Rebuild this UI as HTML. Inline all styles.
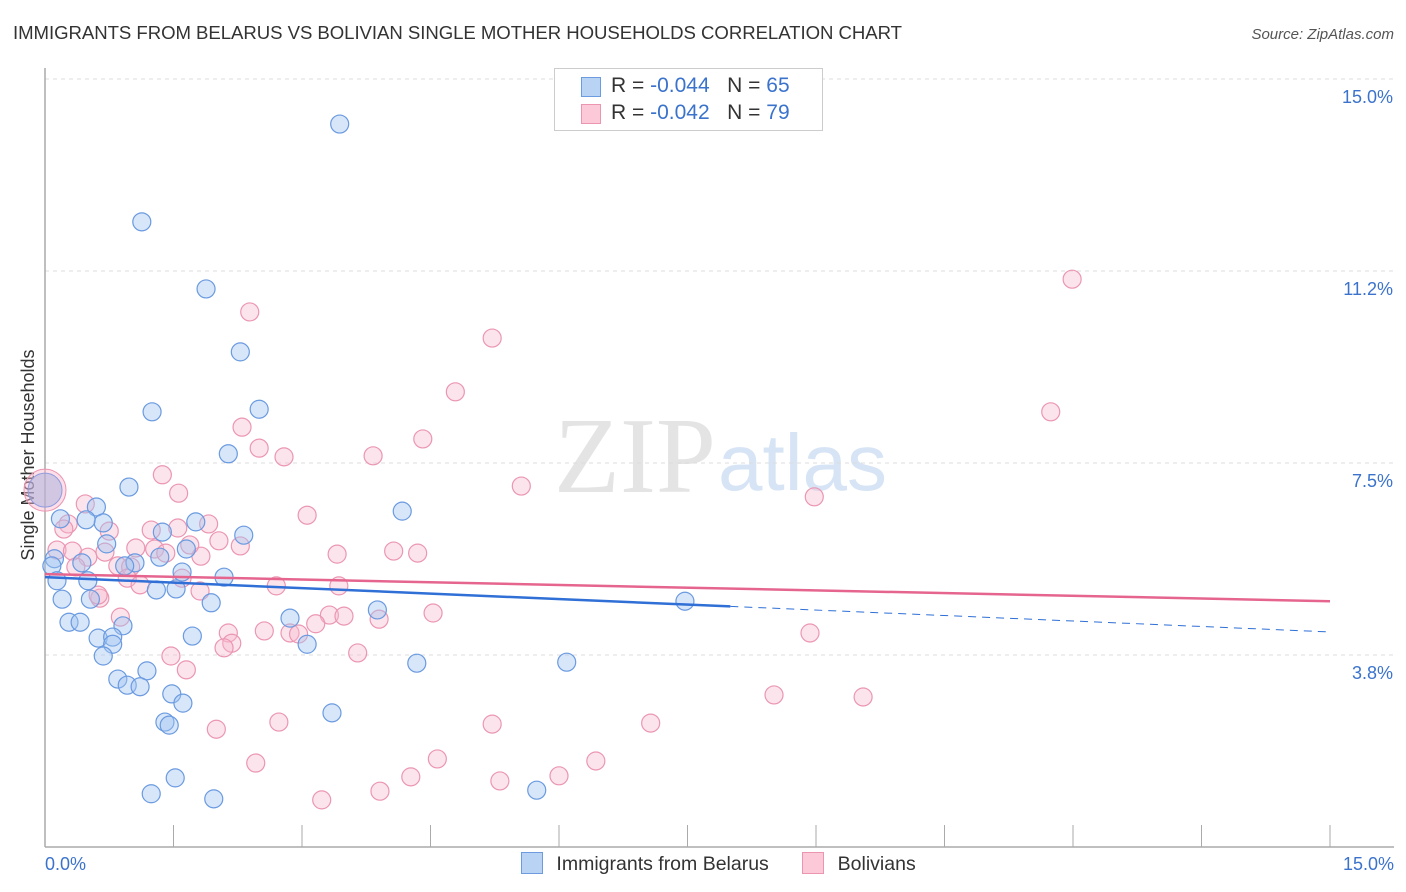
<!DOCTYPE html>
<html><head><meta charset="utf-8"><style>
body{margin:0;background:#fff;font-family:"Liberation Sans",sans-serif;}
#wrap{position:relative;width:1406px;height:892px;overflow:hidden;}
</style></head><body>
<div id="wrap">
<svg id="svg" width="1406" height="892">
<text x="13" y="39" font-size="18.6" fill="#333" textLength="889">IMMIGRANTS FROM BELARUS VS BOLIVIAN SINGLE MOTHER HOUSEHOLDS CORRELATION CHART</text>
<text x="1394" y="39" font-size="15" fill="#555" font-style="italic" text-anchor="end">Source: ZipAtlas.com</text>
<text x="716" y="492" font-size="108" fill="#e4e4e4" text-anchor="end" font-family="Liberation Serif">ZIP</text>
<text x="718" y="490" font-size="80" fill="#d6e4f5">atlas</text>
<text transform="translate(34,455) rotate(-90)" font-size="18" fill="#333" text-anchor="middle">Single Mother Households</text>
<g id="grid"></g><g id="pts"></g><g id="trend"></g>
</svg>
<div style="position:absolute;left:554px;top:68px;width:267px;height:61px;border:1px solid #ccc;background:#fff;font-size:21px;color:#333">
<div style="position:absolute;left:26px;top:8px;width:18px;height:18px;background:#b9d3f5;border:1px solid #6d9be0"></div>
<div style="position:absolute;left:56px;top:5px">R = <span style="color:#3b73cc">-0.044</span>&nbsp;&nbsp;&nbsp;N = <span style="color:#3b73cc">65</span></div>
<div style="position:absolute;left:26px;top:35px;width:18px;height:18px;background:#fbc9d8;border:1px solid #ec95b1"></div>
<div style="position:absolute;left:56px;top:32px">R = <span style="color:#3b73cc">-0.042</span>&nbsp;&nbsp;&nbsp;N = <span style="color:#3b73cc">79</span></div>
</div>
<div style="position:absolute;left:521px;top:852px;font-size:19.5px;color:#333;white-space:nowrap">
<span style="display:inline-block;width:20px;height:20px;background:#b9d3f5;border:1px solid #6d9be0;vertical-align:-4px"></span>
<span style="margin-left:8px">Immigrants from Belarus</span>
<span style="display:inline-block;width:20px;height:20px;background:#fbc9d8;border:1px solid #ec95b1;vertical-align:-4px;margin-left:28px"></span>
<span style="margin-left:8px">Bolivians</span>
</div>
</div>
<script>
const yTicks=[3.75,7.5,11.25,15];
const yTickLabels=["3.8%","7.5%","11.2%","15.0%"];
const xTickLabels=["0.0%","15.0%"];
const blueX=[3.44,1.13,1.88,2.28,1.25,2.50,2.14,0.98,4.17,0.60,0.18,0.68,1.76,2.32,1.37,0.72,1.65,0.11,1.34,0.43,1.05,0.08,0.93,1.60,2.09,0.14,0.50,1.30,1.53,0.20,0.53,1.94,2.86,3.88,7.47,0.28,0.41,0.91,1.72,0.62,0.79,0.79,3.06,0.68,4.34,6.09,1.19,0.85,0.96,1.11,1.48,1.61,1.40,1.45,3.35,1.52,1.24,1.97,5.74,0.48];
const blueY=[14.12,12.21,10.90,9.67,8.50,8.55,7.68,7.03,6.56,6.64,6.41,6.33,6.35,6.09,6.15,5.92,5.82,5.63,5.66,5.55,5.55,5.49,5.49,5.37,5.27,5.20,5.20,5.02,5.04,4.84,4.84,4.77,4.47,4.63,4.80,4.39,4.39,4.32,4.12,4.08,4.10,3.96,3.96,3.73,3.59,3.61,3.44,3.28,3.16,3.13,2.99,2.81,2.44,2.38,2.62,1.35,1.04,0.94,1.11,6.39];
const pinkX=[11.99,2.39,5.22,4.79,11.74,2.30,4.41,2.50,2.79,3.83,1.37,5.56,1.56,8.98,0.47,0.27,3.06,1.91,0.22,0.75,1.24,1.55,0.14,0.32,0.70,1.06,1.28,1.41,1.82,2.28,3.41,4.07,4.35,0.50,0.85,1.00,1.69,2.03,1.60,0.96,1.11,0.64,1.81,2.70,3.43,0.88,3.32,3.49,3.90,3.16,4.53,2.56,2.86,2.14,2.18,2.09,2.96,8.93,1.47,3.65,1.65,8.51,9.55,2.00,2.73,5.22,7.07,2.46,4.58,6.43,4.27,5.31,6.00,3.91,3.23,0.62,0.36];
const pinkY=[11.09,10.45,9.94,8.89,8.50,8.20,7.97,7.79,7.62,7.64,7.27,7.05,6.91,6.84,6.70,6.31,6.48,6.31,6.21,6.17,6.19,6.23,5.80,5.78,5.76,5.84,5.82,5.74,5.68,5.88,5.72,5.78,5.74,5.66,5.49,5.47,5.90,5.98,5.25,5.25,5.12,4.86,5.00,5.10,5.10,4.49,4.53,4.51,4.45,4.36,4.57,4.22,4.18,4.18,3.98,3.89,4.16,4.18,3.73,3.79,3.46,2.97,2.93,2.30,2.44,2.40,2.42,1.64,1.72,1.68,1.37,1.29,1.39,1.09,0.92,4.92,5.47];
const bigX=[0]; const bigY=[6.97];
const blueTrend=[5.27,4.20]; const blueSolidEnd=[8.0];
const pinkTrend=[5.33,4.80];
const X0=45,X1=1330,Y0=847,Y1=79;
const xs=v=>X0+v/15*(X1-X0), ys=v=>Y0-v/15*(Y0-Y1);
const NS="http://www.w3.org/2000/svg";
function mk(p,t,a){const e=document.createElementNS(NS,t);for(const k in a)e.setAttribute(k,a[k]);p.appendChild(e);return e;}
const grid=document.getElementById('grid'),pts=document.getElementById('pts'),tr=document.getElementById('trend');
yTicks.forEach((t,i)=>{
 const l=mk(grid,'line',{x1:X0,x2:1394,y1:ys(t),y2:ys(t),stroke:'#ddd','stroke-dasharray':'4,4'});
 
 
 const tx=mk(grid,'text',{x:1393,y:ys(t)+24,'font-size':18,fill:'#3b73cc','text-anchor':'end'});
 tx.textContent=yTickLabels[i];
 
 
});
const ax=mk(grid,'line',{x1:X0,x2:X0,y1:68,y2:Y0,stroke:'#aaa','stroke-width':1.5});


const bx=mk(grid,'line',{x1:X0,x2:1394,y1:Y0,y2:Y0,stroke:'#aaa','stroke-width':1.5});


for(let i=0;i<=10;i++){const v=i*1.5;const t=mk(grid,'line',{x1:xs(v),x2:xs(v),y1:Y0-22,y2:Y0,stroke:'#aaa'});
 
 }
[[0,'start',X0],[15,'end',1394]].forEach((d,i)=>{const t=mk(grid,'text',{x:d[2],y:870,'font-size':18,fill:'#3b73cc','text-anchor':d[1]});t.textContent=xTickLabels[i];
 
 });
bigX.forEach((v,i)=>{
 const c=mk(pts,'circle',{cx:xs(v),cy:ys(bigY[i]),r:21,fill:'rgba(248,185,205,0.45)',stroke:'#ec95b1'});
 
 
 const c2=mk(pts,'circle',{cx:xs(v),cy:ys(bigY[i]),r:17,fill:'rgba(160,170,220,0.45)',stroke:'#8d9be0'});
 
 
});
pinkX.forEach((v,i)=>{const c=mk(pts,'circle',{cx:xs(v),cy:ys(pinkY[i]),r:9,fill:'rgba(248,185,205,0.38)',stroke:'#eb96b2','stroke-width':1.2});
 
 });
blueX.forEach((v,i)=>{const c=mk(pts,'circle',{cx:xs(v),cy:ys(blueY[i]),r:9,fill:'rgba(160,195,240,0.42)',stroke:'#6a9ae0','stroke-width':1.2});
 
 });
const by=v=>blueTrend[0]+(blueTrend[1]-blueTrend[0])*v/15;
let l1=mk(tr,'line',{x1:xs(0),y1:ys(by(0)),x2:xs(blueSolidEnd[0]),y2:ys(by(blueSolidEnd[0])),stroke:'#2f6fd6','stroke-width':2.5});


let l2=mk(tr,'line',{x1:xs(blueSolidEnd[0]),y1:ys(by(blueSolidEnd[0])),x2:xs(15),y2:ys(by(15)),stroke:'#2f6fd6','stroke-width':1,'stroke-dasharray':'8,6'});


let l3=mk(tr,'line',{x1:xs(0),y1:ys(pinkTrend[0]),x2:xs(15),y2:ys(pinkTrend[1]),stroke:'#e5658f','stroke-width':2.5});


</script>
</body></html>
